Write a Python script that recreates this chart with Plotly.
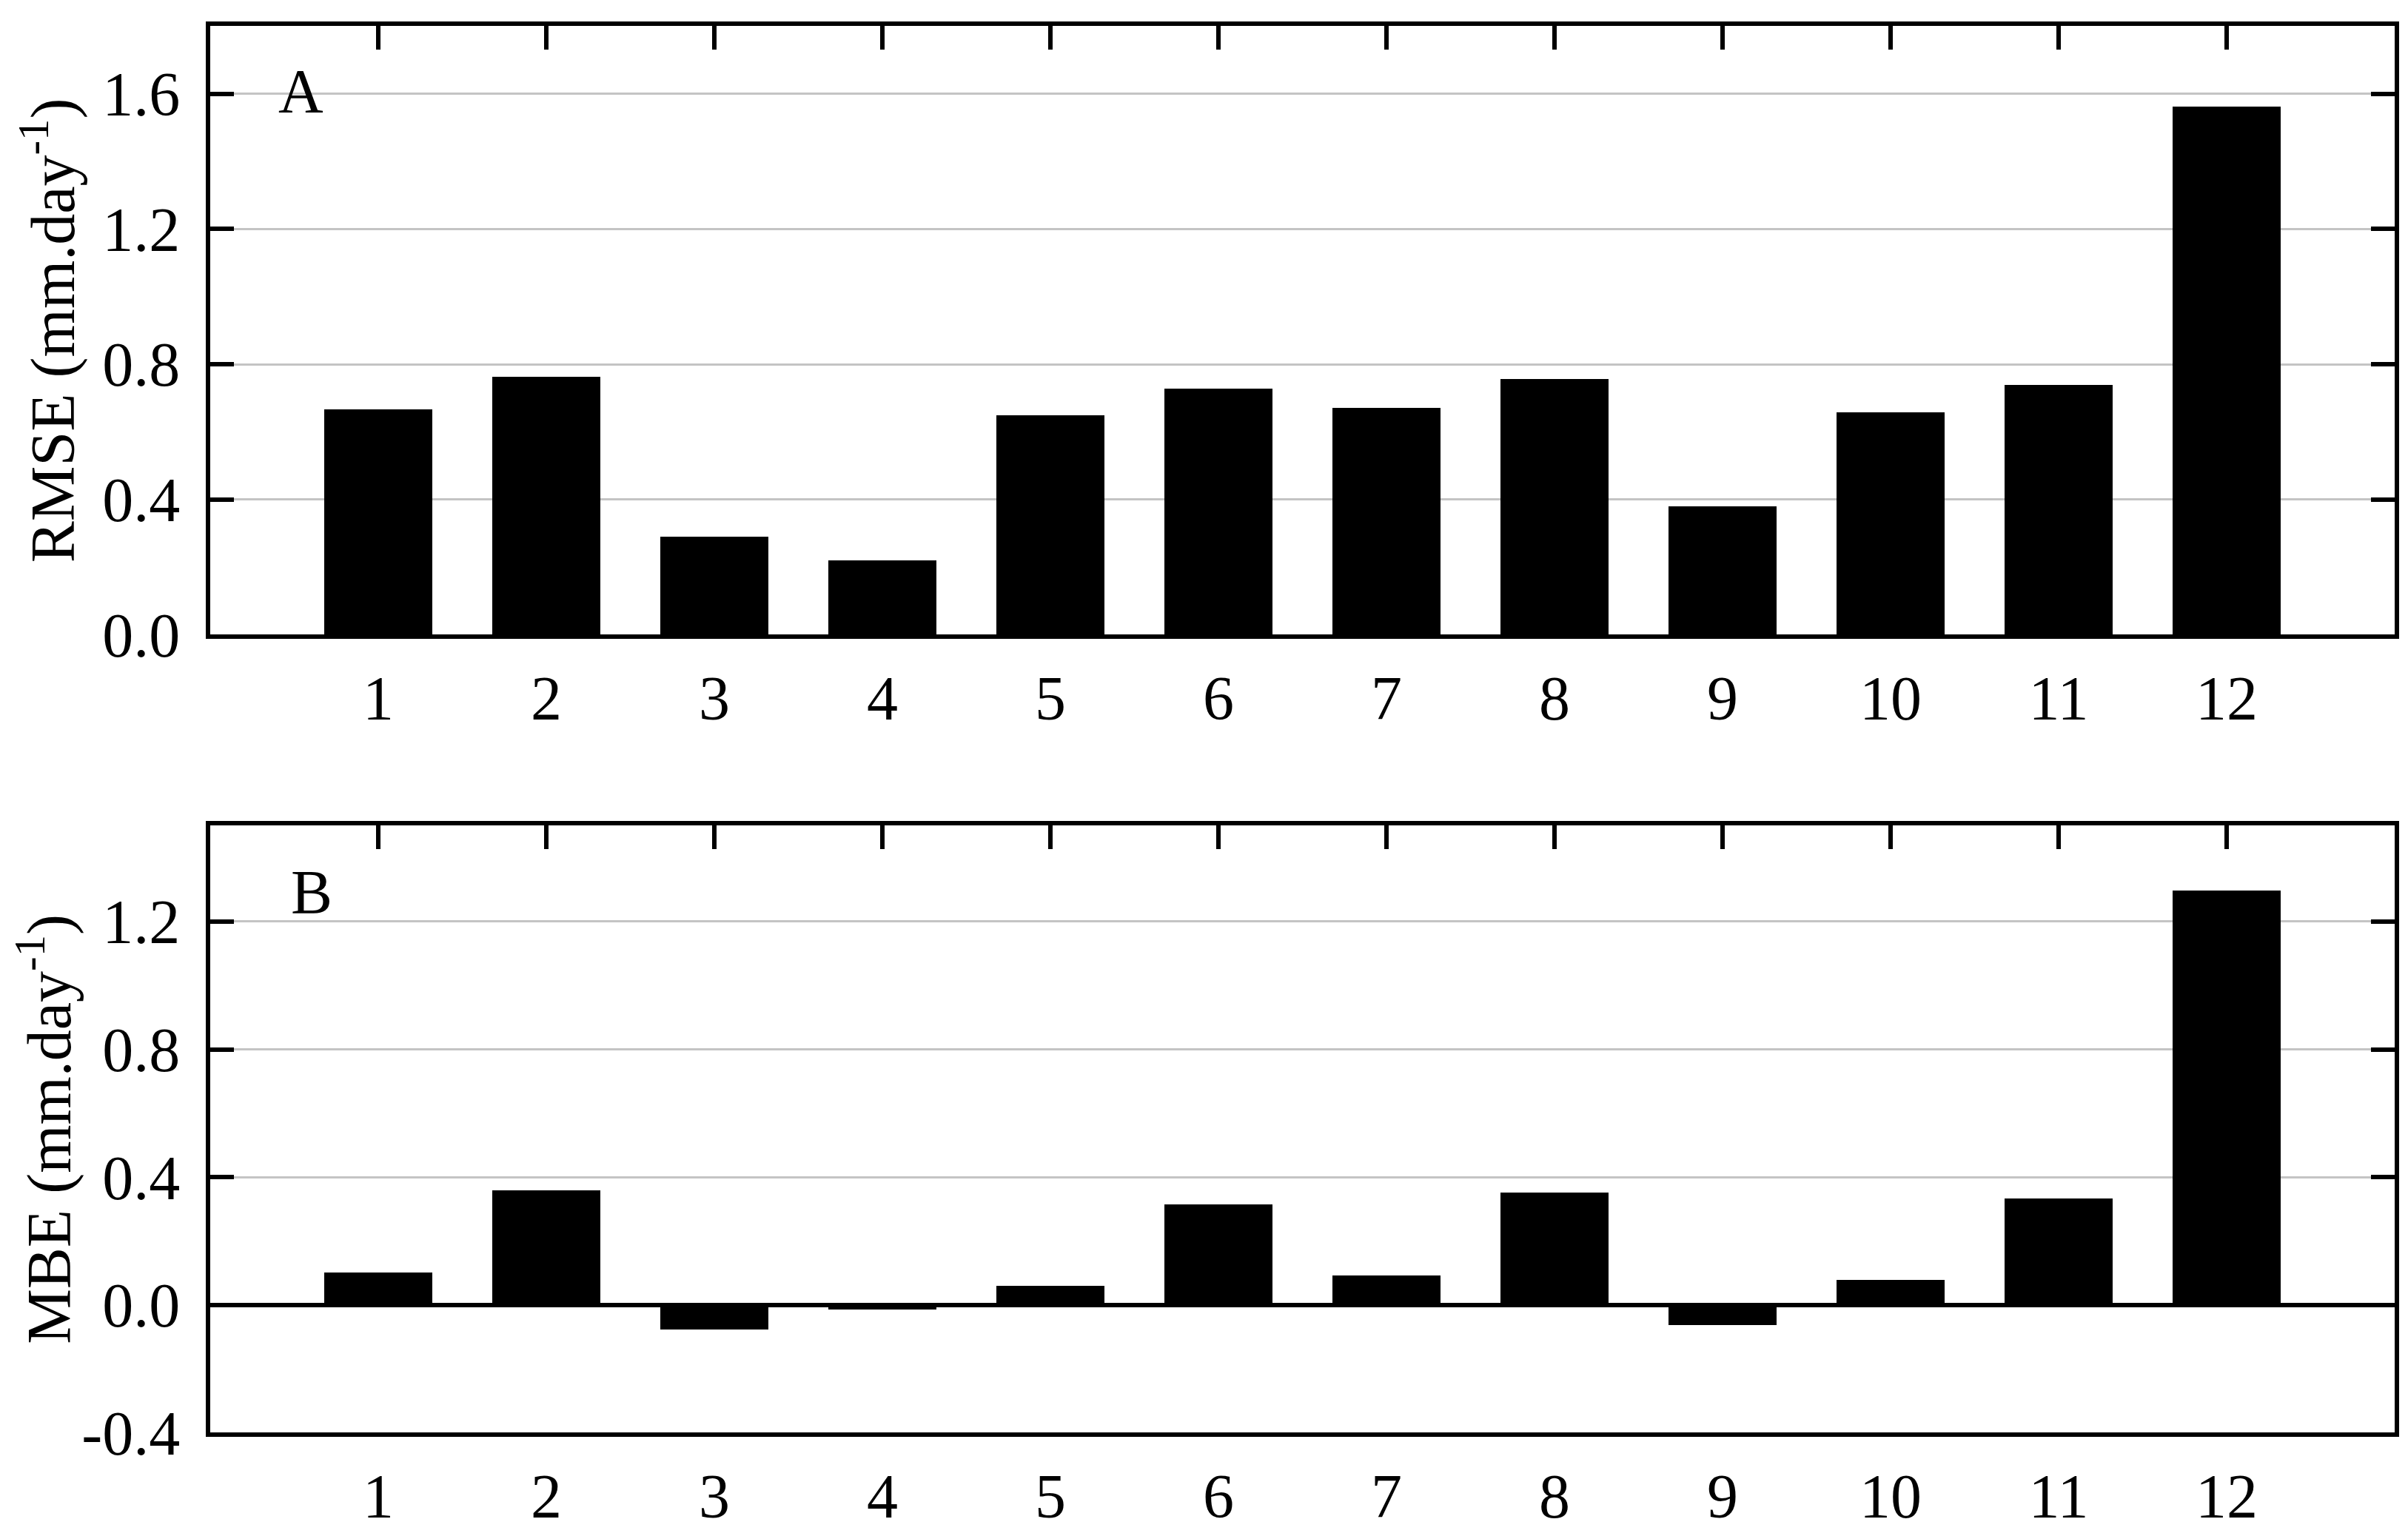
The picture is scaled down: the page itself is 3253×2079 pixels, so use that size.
import plotly.graph_objects as go

months = list(range(1, 13))
rmse = [0.666, 0.762, 0.289, 0.218, 0.649, 0.726, 0.670, 0.756, 0.379, 0.656, 0.738, 1.561]
mbe = [0.100, 0.358, -0.078, -0.015, 0.058, 0.314, 0.092, 0.350, -0.065, 0.077, 0.332, 1.295]

rmse_ticks = [0.0, 0.4, 0.8, 1.2, 1.6]
rmse_ticktext = ["0.0", "0.4", "0.8", "1.2", "1.6"]
mbe_ticks = [-0.4, 0.0, 0.4, 0.8, 1.2]
mbe_ticktext = ["-0.4", "0.0", "0.4", "0.8", "1.2"]
month_labels = [str(m) for m in months]

W, H = 3253, 2079
FONT = "Liberation Serif"
FS = 84

xdom = [276 / W, 3227 / W]
ydom_top = [1 - 869 / H, 1 - 28 / H]
ydom_bot = [1 - 1972 / H, 1 - 1133 / H]

fig = go.Figure()
fig.add_trace(go.Bar(x=months, y=rmse, width=0.64, marker=dict(color="black", line=dict(width=0)),
                     xaxis="x", yaxis="y", showlegend=False))
fig.add_trace(go.Bar(x=months, y=mbe, width=0.64, marker=dict(color="black", line=dict(width=0)),
                     xaxis="x2", yaxis="y2", showlegend=False))
# invisible companions so the top (tick-only) axes get drawn
fig.add_trace(go.Scatter(x=months, y=rmse, mode="markers", marker=dict(opacity=0, size=1),
                         xaxis="x3", yaxis="y", showlegend=False, hoverinfo="skip"))
fig.add_trace(go.Scatter(x=months, y=mbe, mode="markers", marker=dict(opacity=0, size=1),
                         xaxis="x4", yaxis="y2", showlegend=False, hoverinfo="skip"))

xcommon = dict(range=[0, 13], tickvals=months, ticktext=month_labels, ticks="",
               showline=True, linecolor="black", linewidth=6, mirror=True, showgrid=False,
               zeroline=False, tickfont=dict(family=FONT, size=FS, color="black"),
               ticklabelstandoff=8, domain=xdom)
xtop = dict(range=[0, 13], tickvals=months, ticks="inside", ticklen=32, tickwidth=6,
            tickcolor="black", showticklabels=False, showline=False, showgrid=False,
            zeroline=False, side="top", domain=xdom)
ycommon = dict(ticks="inside", ticklen=32, tickwidth=6, tickcolor="black",
               showline=True, linecolor="black", linewidth=6, mirror="ticks",
               showgrid=True, gridcolor="#c4c4c4", gridwidth=2.5,
               tickfont=dict(family=FONT, size=FS, color="black"),
               ticklabelstandoff=18)

fig.update_layout(
    width=W, height=H,
    margin=dict(l=0, r=0, t=0, b=0),
    paper_bgcolor="white", plot_bgcolor="white",
    bargap=0,
    font=dict(family=FONT, size=FS, color="black"),
    xaxis=dict(anchor="y", **xcommon),
    xaxis3=dict(anchor="y", overlaying="x", **xtop),
    yaxis=dict(anchor="x", domain=ydom_top, range=[0, 1.8], tickvals=rmse_ticks,
               ticktext=rmse_ticktext, zeroline=False,
               title=dict(text="RMSE (mm.day<sup>-1</sup>)", font=dict(family=FONT, size=FS),
                          standoff=12),
               **ycommon),
    xaxis2=dict(anchor="y2", **xcommon),
    xaxis4=dict(anchor="y2", overlaying="x2", **xtop),
    yaxis2=dict(anchor="x2", domain=ydom_bot, range=[-0.4, 1.5], tickvals=mbe_ticks,
                ticktext=mbe_ticktext, zeroline=True, zerolinecolor="black", zerolinewidth=6,
                title=dict(text="MBE (mm.day<sup>-1</sup>)", font=dict(family=FONT, size=FS),
                           standoff=12),
                **ycommon),
    annotations=[
        dict(text="A", x=398 / W, y=1 - 118 / H, xref="paper", yref="paper",
             showarrow=False, font=dict(family=FONT, size=FS, color="black"),
             xanchor="center", yanchor="middle"),
        dict(text="B", x=413 / W, y=1 - 1225 / H, xref="paper", yref="paper",
             showarrow=False, font=dict(family=FONT, size=FS, color="black"),
             xanchor="center", yanchor="middle"),
    ],
)

fig.write_html("out.html")
